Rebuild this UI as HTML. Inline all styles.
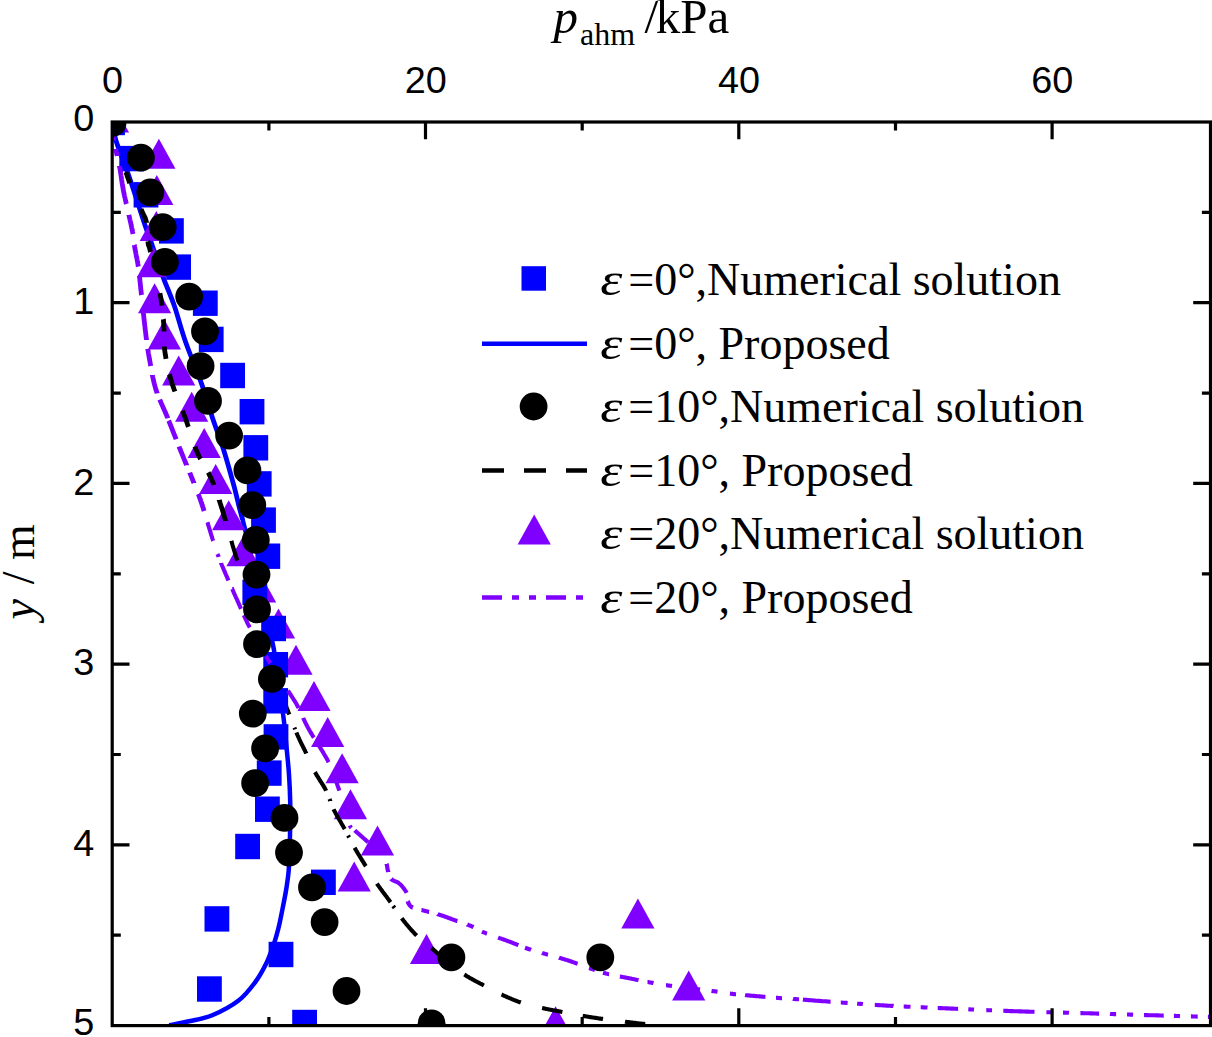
<!DOCTYPE html>
<html><head><meta charset="utf-8"><title>p_ahm chart</title>
<style>
html,body{margin:0;padding:0;background:#fff;}
body{width:1212px;height:1037px;overflow:hidden;position:relative;}
svg{position:absolute;left:0;top:0;display:block;}
.tk{font-family:"Liberation Sans",Arial,sans-serif;font-size:37.8px;fill:#000;}
.sf{font-family:"Liberation Serif","Times New Roman",serif;font-size:46px;fill:#000;}
.it{font-style:italic;}
</style></head><body>
<svg width="1212" height="1037" viewBox="0 0 1212 1037">
<rect width="1212" height="1037" fill="#fff"/>
<defs><clipPath id="cp"><rect x="112.2" y="122.0" width="1101.3" height="903.6"/></clipPath></defs>

<g clip-path="url(#cp)">
<clipPath id="ct"><rect x="0" y="0" width="1212" height="520"/></clipPath><clipPath id="cb"><rect x="0" y="520" width="1212" height="517"/></clipPath>
<path d="M112.5 122.0C113.0 125.0 113.0 130.7 115.7 139.7C118.4 148.7 124.1 162.0 128.9 176.0C133.7 190.0 140.6 212.1 144.6 223.9C148.6 235.7 149.7 238.1 152.8 247.0C155.9 255.9 159.6 267.5 163.2 277.3C166.8 287.1 170.6 295.1 174.3 305.8C178.0 316.5 180.9 328.7 185.5 341.7C190.1 354.7 197.1 371.1 201.6 383.9C206.1 396.7 209.0 407.4 212.7 418.5C216.4 429.6 220.4 439.6 223.9 450.7C227.4 461.8 231.1 475.5 233.8 485.4C236.5 495.3 238.2 503.3 240.0 510.2C241.8 517.1 242.5 518.7 244.5 527.0C246.5 535.3 249.4 548.7 252.0 560.0C254.6 571.3 257.3 584.2 260.0 595.0C262.7 605.8 265.7 616.2 268.0 625.0C270.3 633.8 271.8 638.0 273.6 648.0C275.4 658.0 277.3 673.0 279.0 685.0C280.7 697.0 282.6 709.6 283.8 720.0C285.1 730.4 285.6 738.2 286.5 747.3C287.4 756.4 288.4 765.5 289.0 774.6C289.6 783.7 290.0 791.7 290.2 801.8C290.4 811.9 290.2 824.3 290.0 835.0C289.8 845.7 289.4 858.7 289.0 866.2C288.6 873.7 288.2 875.5 287.6 880.0C287.0 884.5 286.4 888.6 285.6 893.0C284.8 897.4 284.0 901.4 283.0 906.4C282.0 911.4 280.7 918.2 279.6 923.2C278.5 928.2 277.3 932.6 276.3 936.1C275.3 939.6 275.4 939.6 273.8 944.0C272.2 948.4 269.8 956.1 266.7 962.5C263.6 968.9 259.8 976.0 255.1 982.3C250.4 988.6 245.8 995.0 238.6 1000.5C231.4 1006.0 220.4 1011.8 212.2 1015.3C203.9 1018.8 196.2 1019.6 189.1 1021.3C181.9 1022.9 172.6 1024.5 169.3 1025.2" fill="none" stroke="#0000ff" stroke-width="4.8" stroke-linejoin="round" clip-path="url(#ct)"/>
<path d="M112.5 122.0C113.0 125.0 113.0 130.7 115.7 139.7C118.4 148.7 124.1 162.0 128.9 176.0C133.7 190.0 140.6 212.1 144.6 223.9C148.6 235.7 149.7 238.1 152.8 247.0C155.9 255.9 159.6 267.5 163.2 277.3C166.8 287.1 170.6 295.1 174.3 305.8C178.0 316.5 180.9 328.7 185.5 341.7C190.1 354.7 197.1 371.1 201.6 383.9C206.1 396.7 209.0 407.4 212.7 418.5C216.4 429.6 220.4 439.6 223.9 450.7C227.4 461.8 231.1 475.5 233.8 485.4C236.5 495.3 238.2 503.3 240.0 510.2C241.8 517.1 242.5 518.7 244.5 527.0C246.5 535.3 249.4 548.7 252.0 560.0C254.6 571.3 257.3 584.2 260.0 595.0C262.7 605.8 265.7 616.2 268.0 625.0C270.3 633.8 271.8 638.0 273.6 648.0C275.4 658.0 277.3 673.0 279.0 685.0C280.7 697.0 282.6 709.6 283.8 720.0C285.1 730.4 285.6 738.2 286.5 747.3C287.4 756.4 288.4 765.5 289.0 774.6C289.6 783.7 290.0 791.7 290.2 801.8C290.4 811.9 290.2 824.3 290.0 835.0C289.8 845.7 289.4 858.7 289.0 866.2C288.6 873.7 288.2 875.5 287.6 880.0C287.0 884.5 286.4 888.6 285.6 893.0C284.8 897.4 284.0 901.4 283.0 906.4C282.0 911.4 280.7 918.2 279.6 923.2C278.5 928.2 277.3 932.6 276.3 936.1C275.3 939.6 275.4 939.6 273.8 944.0C272.2 948.4 269.8 956.1 266.7 962.5C263.6 968.9 259.8 976.0 255.1 982.3C250.4 988.6 245.8 995.0 238.6 1000.5C231.4 1006.0 220.4 1011.8 212.2 1015.3C203.9 1018.8 196.2 1019.6 189.1 1021.3C181.9 1022.9 172.6 1024.5 169.3 1025.2" fill="none" stroke="#0000ff" stroke-width="4.5" stroke-linejoin="round" clip-path="url(#cb)"/>
<g fill="#7f00ff"><polygon points="112.5,102.6 95.9,132.6 129.1,132.6"/><polygon points="158.9,138.7 142.3,168.7 175.5,168.7"/><polygon points="156.8,174.9 140.2,204.9 173.4,204.9"/><polygon points="156.3,211.0 139.7,241.0 172.9,241.0"/><polygon points="153.5,247.2 136.9,277.2 170.1,277.2"/><polygon points="154.6,283.3 138.0,313.3 171.2,313.3"/><polygon points="164.4,319.5 147.8,349.5 181.0,349.5"/><polygon points="178.7,355.6 162.1,385.6 195.3,385.6"/><polygon points="191.7,391.8 175.1,421.8 208.3,421.8"/><polygon points="204.2,427.9 187.6,457.9 220.8,457.9"/><polygon points="215.7,464.0 199.1,494.0 232.3,494.0"/><polygon points="228.7,500.2 212.1,530.2 245.3,530.2"/><polygon points="243.0,536.3 226.4,566.3 259.6,566.3"/><polygon points="259.6,572.5 243.0,602.5 276.2,602.5"/><polygon points="278.5,608.6 261.9,638.6 295.1,638.6"/><polygon points="296.0,644.8 279.4,674.8 312.6,674.8"/><polygon points="314.0,680.9 297.4,710.9 330.6,710.9"/><polygon points="327.7,717.0 311.1,747.0 344.3,747.0"/><polygon points="342.1,753.2 325.5,783.2 358.7,783.2"/><polygon points="350.5,789.3 333.9,819.3 367.1,819.3"/><polygon points="377.5,825.5 360.9,855.5 394.1,855.5"/><polygon points="354.2,861.6 337.6,891.6 370.8,891.6"/><polygon points="637.9,898.5 621.3,928.5 654.5,928.5"/><polygon points="426.5,933.9 409.9,963.9 443.1,963.9"/><polygon points="688.7,970.6 672.1,1000.6 705.3,1000.6"/><polygon points="555.6,1006.2 539.0,1036.2 572.2,1036.2"/></g>
<path d="M125.9 172.0L126.1 172.5L126.5 173.7L126.8 174.9L127.2 176.0L127.6 177.1L127.9 178.1L128.3 179.2L128.7 180.2L129.0 181.3L129.4 182.3L129.7 183.1M141.0 209.1L141.2 209.6L141.5 210.1L141.7 210.6L141.9 211.1L142.1 211.6L142.3 212.0L142.5 212.4L142.7 212.9L142.9 213.2L143.1 213.6L143.2 214.0L143.4 214.3L143.5 214.6L143.7 214.9L143.8 215.2L144.0 215.5L144.1 215.8L144.3 216.1L144.4 216.3L144.5 216.6L144.6 216.8L144.8 217.1L144.9 217.4L145.0 217.6L145.1 217.9L145.2 218.1L145.3 218.4L145.4 218.6L145.5 218.9L145.6 219.2L145.7 219.4L145.8 219.7L145.9 220.0L146.0 220.3L146.1 220.7L146.1 221.0L146.2 221.3L146.3 221.7L146.4 222.1L146.5 222.5L146.5 222.7M147.9 241.5L148.0 241.6L148.0 242.0L148.0 242.4L148.1 242.7L148.1 243.0L148.2 243.2L148.2 243.5L148.2 243.7L148.3 243.9L148.3 244.0L148.3 244.2L148.4 244.3L148.4 244.5L148.4 244.6L148.5 244.7L148.5 244.8L148.5 244.9L148.6 245.0L148.6 245.1L148.6 245.2L148.7 245.3L148.7 245.4L148.7 245.5L148.8 245.6L148.8 245.8L148.9 245.9L149.0 246.1L149.0 246.3L149.1 246.5L149.2 246.7L149.2 247.0L149.3 247.2L149.4 247.6L149.5 247.9L149.6 248.3L149.7 248.7L149.8 249.1L149.9 249.6L150.1 250.1L150.2 250.7L150.3 251.3L150.5 252.0L150.5 252.0M159.9 293.2L160.1 294.2L160.3 295.2L160.5 296.2L160.7 297.2L160.9 298.1L161.0 299.0L161.2 299.9L161.3 300.8L161.4 301.7L161.6 302.5L161.7 303.4L161.8 304.2L161.9 305.0L162.0 305.6M163.3 319.2L163.4 319.5L163.4 320.2L163.5 320.9L163.5 321.5L163.6 322.2L163.6 322.9L163.7 323.5L163.7 324.2L163.7 324.9L163.8 325.5L163.8 326.2L163.9 326.9L163.9 327.6L164.0 328.2L164.0 328.9L164.1 329.6L164.1 330.2L164.1 330.8L164.1 331.5L164.1 331.6M164.4 346.4L164.4 346.4L164.4 347.1L164.5 347.7L164.5 348.3L164.6 349.0L164.6 349.7L164.7 350.3L164.8 351.0L164.9 351.7L165.0 352.4L165.1 353.1L165.2 353.8L165.3 354.5L165.4 355.2L165.6 356.0L165.7 356.7L165.8 357.4L165.9 358.1L166.0 358.8M169.4 374.2L169.5 374.4L169.7 375.2L169.9 376.0L170.1 376.8L170.3 377.6L170.6 378.5L170.8 379.3L171.0 380.1L171.3 380.9L171.5 381.8L171.8 382.6L172.1 383.4L172.3 384.3L172.6 385.1L172.9 386.0L173.2 386.9L173.5 387.7L173.8 388.6L174.1 389.5L174.5 390.4L174.8 391.3L174.9 391.6M182.5 410.7L182.8 411.4L183.1 412.3L183.5 413.2L183.8 414.1L184.2 415.0L184.5 415.9L184.9 416.8L185.2 417.6L185.5 418.5L185.8 419.4L186.1 420.2L186.4 421.1L186.7 422.0L187.0 422.8L187.3 423.7L187.6 424.6L187.9 425.5L188.2 426.3L188.4 426.8M195.0 446.6L195.2 447.3L195.5 448.1L195.8 448.9L196.1 449.7L196.5 450.5L196.8 451.2L197.1 452.0L197.4 452.8L197.8 453.5L198.1 454.2L198.4 455.0L198.8 455.7L199.1 456.4L199.5 457.1L199.9 457.8L200.2 458.5L200.5 459.0M208.2 472.6L208.5 473.1L208.9 473.8L209.2 474.5L209.5 475.1L209.9 475.8L210.2 476.5L210.6 477.1L210.9 477.8L211.2 478.5L211.5 479.2L211.8 479.9L212.1 480.6L212.4 481.2L212.7 481.9L213.0 482.6L213.2 483.2L213.5 483.9L213.8 484.6L213.9 485.0M219.2 499.9L219.2 500.1L219.5 500.9L219.7 501.6L220.0 502.4L220.2 503.2L220.5 504.1L220.8 504.9L221.0 505.7L221.3 506.6L221.6 507.5L221.9 508.4L222.2 509.3L222.5 510.3L222.8 511.3L223.1 512.2L223.4 513.3L223.7 514.3L224.0 515.3L224.3 516.4L224.6 517.5L224.9 518.5L225.3 519.6L225.6 520.8L225.6 521.0" fill="none" stroke="#000" stroke-width="4.8"/>
<path d="M231.3 540.8L231.4 541.3L231.8 542.4L232.1 543.5L232.4 544.6L232.7 545.6L233.0 546.7L233.3 547.7L233.6 548.7L233.9 549.7L234.2 550.7L234.5 551.7L234.8 552.6L235.1 553.6L235.4 554.5L235.6 555.4L235.9 556.3L236.2 557.2L236.5 558.1L236.7 559.0L237.0 559.9L237.2 560.6M281.6 694.0L281.6 694.0L282.0 695.0L282.4 696.0L282.7 697.0L283.1 697.9L283.4 698.9L283.8 699.9L284.2 700.9L284.6 701.9L284.9 702.9L285.3 703.9L285.7 704.9L286.1 705.9L286.4 707.0L286.8 708.0L287.2 709.0L287.6 710.0L287.9 711.0L288.3 712.0L288.7 713.0L289.1 714.0L289.3 714.5M294.4 727.6L294.5 727.8L294.8 728.6L295.1 729.4M296.4 732.5L296.4 732.5L296.7 733.2L297.0 733.9L297.3 734.6L297.6 735.3L297.9 735.9L298.1 736.6L298.4 737.2L298.7 737.8L299.0 738.4L299.2 739.0L299.5 739.5L299.7 740.1L300.0 740.6L300.2 741.2L300.5 741.7L300.7 742.2L301.0 742.7L301.2 743.2L301.5 743.7L301.7 744.2L301.9 744.7L302.2 745.1L302.4 745.6L302.6 746.1L302.9 746.5L303.1 747.0L303.3 747.4L303.6 747.9L303.8 748.4L304.0 748.8L304.2 749.3L304.5 749.7L304.7 750.2L304.9 750.6L305.2 751.1L305.4 751.6L305.6 752.0L305.8 752.5L306.1 753.0L306.3 753.5L306.3 753.5M315.0 772.1L315.0 772.1L315.3 772.6L315.5 773.0L315.8 773.5L316.0 774.0L316.3 774.4L316.6 774.9L316.8 775.4L317.1 775.8L317.4 776.3L317.7 776.8L318.0 777.2L318.3 777.7L318.6 778.1L318.9 778.6L319.1 779.1L319.4 779.5L319.7 780.0L320.0 780.5L320.3 780.9L320.6 781.4L320.9 781.9L321.2 782.3L321.5 782.8L321.8 783.3L322.1 783.7L322.4 784.2L322.7 784.7L323.0 785.1L323.2 785.6L323.5 786.1L323.8 786.5L324.1 787.0L324.3 787.4L324.6 787.9L324.9 788.4L325.1 788.8L325.4 789.3L325.6 789.8L325.9 790.2L326.1 790.7L326.1 790.7M329.5 799.0L329.5 799.0L329.7 799.5L329.9 799.9L330.0 800.4L330.2 800.8L330.2 801.0M333.6 809.3L333.6 809.3L333.8 809.8L334.1 810.3L334.3 810.7L334.6 811.2L334.8 811.7L335.1 812.2L335.3 812.7L335.6 813.2L335.9 813.7L336.2 814.2L336.4 814.7L336.7 815.2L337.0 815.7L337.3 816.2L337.6 816.7L337.8 817.2L338.1 817.7L338.4 818.2L338.7 818.7L339.0 819.2L339.3 819.7L339.6 820.2L339.9 820.7L340.2 821.2L340.5 821.7L340.8 822.2L341.1 822.7L341.3 823.2L341.6 823.7L341.9 824.2L342.2 824.7L342.5 825.2L342.8 825.7L343.1 826.2L343.3 826.7L343.6 827.2L343.9 827.7L344.2 828.1L344.4 828.6L344.7 829.1L344.7 829.1M348.1 835.5L348.2 835.7L348.4 836.2L348.7 836.6L348.9 837.1L349.1 837.5M354.6 847.7L354.6 847.7L354.9 848.2L355.1 848.6L355.4 849.1L355.7 849.6L355.9 850.0L356.2 850.5L356.5 851.0L356.8 851.4L357.0 851.9L357.3 852.4L357.6 852.8L357.9 853.3L358.1 853.8L358.4 854.2L358.7 854.7L359.0 855.2L359.3 855.6L359.6 856.1L359.8 856.6L360.1 857.0L360.4 857.5L360.7 858.0L361.0 858.4L361.3 858.9L361.6 859.3L361.8 859.8L362.1 860.3L362.4 860.7L362.7 861.2L363.0 861.7L363.3 862.1L363.5 862.6L363.8 863.0L364.1 863.5L364.4 863.9L364.7 864.4L365.0 864.8L365.2 865.3L365.5 865.8L365.8 866.2L365.8 866.2M376.9 883.6L376.9 883.6L377.2 884.1L377.5 884.5L377.8 885.0L378.2 885.4L378.5 885.9L378.8 886.3L379.2 886.8L379.5 887.3L379.8 887.8L380.2 888.2L380.5 888.7L380.9 889.2L381.2 889.6L381.6 890.1L381.9 890.6L382.3 891.1L382.6 891.6L383.0 892.0L383.3 892.5L383.7 893.0L384.0 893.5L384.4 893.9L384.8 894.4L385.1 894.9L385.5 895.4L385.8 895.8L386.2 896.3L386.5 896.8L386.9 897.2L387.2 897.7L387.6 898.2L387.9 898.6L388.2 899.1L388.6 899.5L388.9 900.0L389.2 900.4L389.6 900.9L389.9 901.3L390.2 901.8L390.5 902.2L390.5 902.2M393.1 906.0L393.4 906.4L393.7 906.8L393.9 907.2L394.2 907.6L394.5 908.0L394.5 908.0M401.7 918.3L401.7 918.3L402.0 918.7L402.4 919.1L402.7 919.6L403.0 920.0L403.4 920.4L403.7 920.9L404.1 921.3L404.4 921.8L404.8 922.2L405.2 922.7L405.5 923.1L405.9 923.6L406.3 924.0L406.6 924.5L407.0 924.9L407.4 925.4L407.8 925.8L408.2 926.3L408.5 926.7L408.9 927.2L409.3 927.6L409.7 928.1L410.1 928.5L410.5 929.0L410.9 929.4L411.2 929.9L411.6 930.3L412.0 930.7L412.4 931.2L412.8 931.6L413.2 932.0L413.6 932.4L414.0 932.8L414.3 933.3L414.7 933.7L415.1 934.1L415.5 934.5L415.9 934.8L416.2 935.2L416.6 935.6L416.6 935.6M431.4 948.0L431.4 948.0L431.8 948.3L432.2 948.7L432.6 949.0L433.0 949.3L433.4 949.7L433.8 950.0L434.2 950.4L434.6 950.7L435.0 951.1L435.4 951.4L435.8 951.8L436.3 952.1L436.7 952.5L437.1 952.8L437.5 953.2L437.9 953.6L438.3 953.9L438.8 954.3L439.2 954.6L439.6 955.0L440.0 955.4L440.5 955.7L440.9 956.1L441.3 956.4L441.7 956.8L442.1 957.1L442.6 957.5L443.0 957.9L443.0 957.9M464.3 974.5L464.3 974.5L464.8 974.8L465.2 975.1L465.7 975.4L466.1 975.7L466.6 976.0L467.1 976.3L467.6 976.5L468.0 976.8L468.5 977.1L469.0 977.4L469.5 977.7L470.0 978.0L470.5 978.3L471.0 978.5L471.5 978.8L472.0 979.1L472.5 979.4L473.0 979.7L473.5 979.9L474.0 980.2L474.5 980.5L475.0 980.8L475.5 981.0L476.0 981.3L476.6 981.6L477.1 981.9L477.6 982.1L478.1 982.4L478.6 982.7L479.1 982.9L479.6 983.2L480.1 983.5L480.5 983.7L481.0 984.0L481.5 984.2L482.0 984.5L482.5 984.7L483.0 985.0L483.4 985.2L483.9 985.5L483.9 985.5M501.5 994.5L501.5 994.5L502.0 994.7L502.4 994.9L502.9 995.1L503.4 995.4L503.8 995.6L504.3 995.8L504.8 996.0L505.2 996.2L505.7 996.4L506.2 996.6L506.6 996.8L507.1 997.1L507.6 997.3L508.0 997.5L508.5 997.7L509.0 997.9L509.5 998.1L510.0 998.3L510.4 998.5L510.9 998.7L511.4 998.9L511.9 999.1L512.4 999.3L512.9 999.5L513.3 999.7L513.8 999.9L514.3 1000.1L514.8 1000.3L515.3 1000.5L515.8 1000.7L516.3 1000.9L516.8 1001.1L517.3 1001.3L517.8 1001.4L518.3 1001.6L518.8 1001.8L519.3 1002.0L519.8 1002.2L520.3 1002.3L520.8 1002.5L520.8 1002.5M542.1 1008.0L542.1 1008.0L542.6 1008.1L543.1 1008.2L543.7 1008.3L544.2 1008.5L544.7 1008.6L545.2 1008.7L545.7 1008.8L546.2 1008.9L546.7 1009.0L547.2 1009.1L547.8 1009.2L548.3 1009.3L548.8 1009.4L549.3 1009.5L549.8 1009.6L550.3 1009.7L550.8 1009.8L551.3 1009.9L551.8 1010.0L552.3 1010.1L552.8 1010.2L553.3 1010.3L553.8 1010.4L554.3 1010.5L554.8 1010.6L555.3 1010.7L555.8 1010.8L556.3 1010.9L556.8 1011.0L557.3 1011.0L557.9 1011.1L558.4 1011.2L558.9 1011.3L559.4 1011.4L559.9 1011.5L560.4 1011.6L560.9 1011.7L561.4 1011.8L561.9 1011.9L562.4 1012.0L562.4 1012.0M582.7 1015.8L582.7 1015.8L583.2 1015.9L583.7 1016.0L584.2 1016.1L584.7 1016.1L585.2 1016.2L585.7 1016.3L586.2 1016.4L586.7 1016.5L587.2 1016.6L587.7 1016.7L588.2 1016.7L588.7 1016.8L589.2 1016.9L589.7 1017.0L590.2 1017.1L590.7 1017.1L591.2 1017.2L591.7 1017.3L592.2 1017.4L592.7 1017.5L593.2 1017.5L593.7 1017.6L594.3 1017.7L594.8 1017.8L595.3 1017.9L595.8 1017.9L596.3 1018.0L596.8 1018.1L597.3 1018.2L597.8 1018.2L598.3 1018.3L598.8 1018.4L599.3 1018.5L599.9 1018.6L600.4 1018.6L600.9 1018.7L601.4 1018.8L601.9 1018.9L602.5 1018.9L603.0 1019.0L603.0 1019.0M625.0 1021.7L625.0 1021.7L625.5 1021.8L626.1 1021.8L626.6 1021.9L627.1 1022.0L627.7 1022.0L628.2 1022.1L628.7 1022.1L629.3 1022.2L629.8 1022.3L630.3 1022.3L630.9 1022.4L631.4 1022.5L631.9 1022.5L632.5 1022.6L633.0 1022.7L633.5 1022.7L634.0 1022.8L634.6 1022.9L635.1 1022.9L635.6 1023.0L636.1 1023.0L636.6 1023.1L637.2 1023.2L637.7 1023.2L638.2 1023.3L638.7 1023.3L639.2 1023.4L639.7 1023.5L640.2 1023.5L640.7 1023.6L641.1 1023.6L641.6 1023.7L642.1 1023.7L642.6 1023.8L643.0 1023.8L643.5 1023.9L644.0 1023.9L644.4 1024.0L644.9 1024.1L645.3 1024.1L645.3 1024.1" fill="none" stroke="#000" stroke-width="4.1"/>
<g fill="#0000ff"><rect x="100.1" y="109.8" width="24.8" height="25.4"/><rect x="119.3" y="145.9" width="24.8" height="25.4"/><rect x="133.6" y="182.1" width="24.8" height="25.4"/><rect x="159.0" y="218.2" width="24.8" height="25.4"/><rect x="166.2" y="254.4" width="24.8" height="25.4"/><rect x="192.9" y="290.5" width="24.8" height="25.4"/><rect x="198.8" y="326.7" width="24.8" height="25.4"/><rect x="220.2" y="362.8" width="24.8" height="25.4"/><rect x="239.6" y="399.0" width="24.8" height="25.4"/><rect x="243.4" y="435.1" width="24.8" height="25.4"/><rect x="246.8" y="471.2" width="24.8" height="25.4"/><rect x="251.1" y="507.4" width="24.8" height="25.4"/><rect x="255.4" y="543.5" width="24.8" height="25.4"/><rect x="242.4" y="579.7" width="24.8" height="25.4"/><rect x="261.2" y="615.8" width="24.8" height="25.4"/><rect x="263.3" y="652.0" width="24.8" height="25.4"/><rect x="263.3" y="688.1" width="24.8" height="25.4"/><rect x="263.6" y="724.2" width="24.8" height="25.4"/><rect x="256.8" y="760.4" width="24.8" height="25.4"/><rect x="255.0" y="796.5" width="24.8" height="25.4"/><rect x="235.2" y="833.8" width="24.8" height="25.4"/><rect x="311.0" y="869.6" width="24.8" height="25.4"/><rect x="204.5" y="906.2" width="24.8" height="25.4"/><rect x="268.6" y="941.8" width="24.8" height="25.4"/><rect x="197.0" y="976.3" width="24.8" height="25.4"/><rect x="292.2" y="1009.8" width="24.8" height="25.4"/></g>
<path d="M113.0 136.0L113.0 136.4L113.1 136.8L113.1 137.2L113.2 137.6L113.2 138.0L113.3 138.4L113.3 138.8L113.4 139.2L113.4 139.5L113.5 139.9L113.6 140.3L113.6 140.4M115.6 149.0L115.6 149.2L115.7 149.6L115.8 149.9L115.9 150.3L116.0 150.7L116.1 151.0L116.2 151.4L116.2 151.8L116.3 152.2L116.4 152.5L116.5 152.9L116.6 153.3L116.7 153.6L116.7 154.0L116.8 154.4L116.9 154.7L117.0 155.1L117.1 155.4L117.2 155.8L117.2 156.0M119.5 166.0L119.5 166.0L119.5 166.4L119.6 166.9L119.7 167.3L119.8 167.8L119.9 168.3L120.0 168.7L120.1 169.2L120.1 169.7L120.2 170.2L120.3 170.7L120.4 171.2L120.5 171.7L120.5 172.3L120.6 172.8L120.7 173.3L120.8 173.9L120.9 174.4L120.9 175.0L121.0 175.5L121.1 176.1L121.2 176.6L121.3 177.2L121.3 177.8L121.4 178.3L121.5 178.9L121.6 179.5L121.7 180.1L121.8 180.6L121.8 181.2L121.9 181.8L122.0 182.4L122.1 183.0L122.2 183.6L122.3 184.2L122.4 184.7L122.5 185.3L122.6 185.9L122.7 186.5L122.8 187.1L122.9 187.7L123.0 188.3L123.1 188.8L123.2 189.4L123.3 190.0L123.4 190.6L123.5 191.2L123.6 191.8L123.8 192.3L123.9 192.9L124.0 193.5L124.1 194.1L124.3 194.7L124.4 195.4L124.5 196.0L124.7 196.6L124.8 197.2L125.0 197.8L125.1 198.4L125.2 199.0L125.4 199.7L125.5 200.3L125.7 200.9L125.8 201.5L125.9 202.1L126.1 202.8L126.2 203.4L126.4 204.0L126.4 204.0M128.9 215.0L128.9 215.1L129.1 215.6L129.2 216.2L129.3 216.7L129.4 217.3L129.6 217.8L129.7 218.4L129.8 218.9L129.9 219.5L130.0 220.0L130.2 220.5L130.3 221.1L130.4 221.6L130.5 222.1L130.6 222.7L130.8 223.2L130.9 223.7L131.0 224.2L131.1 224.8L131.2 225.3L131.3 225.8L131.4 226.3L131.5 226.8L131.6 227.3L131.7 227.8L131.8 228.2L132.0 228.7L132.1 229.2L132.1 229.7L132.2 230.1L132.3 230.6L132.4 231.0L132.5 231.5L132.6 231.9L132.7 232.3L132.8 232.8L132.8 233.2L132.9 233.6L133.0 234.0L133.0 234.0M134.3 245.0L134.4 245.2L134.4 245.6L134.5 246.0L134.6 246.4L134.6 246.8L134.7 247.3L134.8 247.7L134.9 248.2L135.0 248.6L135.0 249.1L135.1 249.5L135.2 250.0L135.3 250.5L135.4 251.0L135.5 251.5L135.6 252.0L135.7 252.5L135.8 253.0L135.9 253.5L136.0 254.1L136.1 254.6L136.2 255.1L136.3 255.7L136.4 256.2L136.5 256.7L136.6 257.3L136.8 257.8L136.9 258.4L137.0 258.9L137.1 259.5L137.2 260.0L137.3 260.6L137.4 261.2L137.5 261.7L137.6 262.3L137.7 262.8L137.8 263.4L137.9 263.9L138.0 264.5L138.0 265.1L138.1 265.6L138.2 266.2L138.3 266.6M139.5 276.0L139.5 276.2L139.5 276.7L139.6 277.2L139.6 277.8L139.7 278.3L139.8 278.8L139.8 279.4L139.9 280.0L139.9 280.5L140.0 281.1L140.1 281.8L140.1 282.4L140.2 283.0L140.3 283.7L140.3 284.4L140.4 285.1L140.5 285.8L140.6 286.5L140.6 287.3L140.7 288.1L140.8 288.9L140.9 289.7L141.0 290.6L141.1 291.5L141.2 292.4L141.3 293.4L141.4 294.4L141.5 295.0M143.4 313.0L143.4 313.1L143.5 314.4L143.7 315.6L143.8 316.8L143.9 318.1L144.1 319.3L144.2 320.5L144.3 321.7L144.5 322.9L144.6 324.0L144.7 325.2L144.9 326.3L145.0 327.4L145.1 328.5L145.2 329.5L145.3 330.5L145.5 331.5L145.6 332.5L145.7 333.4L145.8 334.3L145.9 335.2L146.0 336.0L146.1 336.8L146.2 337.6L146.3 338.3L146.4 339.0L146.5 339.8L146.5 340.0M147.8 349.0L147.8 349.2L147.9 349.8L148.0 350.3L148.1 350.8L148.2 351.4L148.2 351.9L148.3 352.5L148.4 353.0L148.5 353.6L148.6 354.1L148.7 354.7L148.8 355.3L148.9 355.9L149.0 356.5L149.1 357.1L149.3 357.8L149.4 358.4L149.5 359.1L149.6 359.8L149.7 360.5L149.9 361.2L150.0 361.9L150.1 362.6L150.2 363.3L150.4 364.0L150.5 364.8L150.6 365.5L150.7 366.0M152.4 375.0L152.4 375.3L152.6 376.1L152.7 376.9L152.9 377.6L153.1 378.4L153.2 379.2L153.4 379.9L153.6 380.7L153.7 381.4L153.9 382.2L154.1 382.9L154.3 383.7L154.5 384.4L154.7 385.2L154.9 385.9L155.1 386.6L155.3 387.4L155.5 388.1L155.7 388.8L155.9 389.5L156.1 390.2L156.4 390.9L156.6 391.6L156.8 392.3L157.1 392.9L157.2 393.4M159.7 399.6L159.9 400.1L160.2 400.7L160.5 401.3L160.8 402.0L161.0 402.6L161.3 403.3L161.6 403.9L161.9 404.6L162.2 405.3L162.5 405.9L162.8 406.6L163.1 407.3L163.4 408.0L163.7 408.6L164.0 409.3L164.3 410.1L164.7 410.8L165.0 411.5L165.3 412.2L165.6 413.0L165.9 413.7L166.3 414.5L166.6 415.3L166.9 416.1L167.2 416.9L167.6 417.7L167.7 418.2M168.7 420.6L169.0 421.2L169.3 422.1L169.7 423.0L170.1 424.0L170.4 424.9L170.8 425.9L171.2 426.8L171.6 427.8L172.0 428.8L172.3 429.7L172.7 430.7L173.1 431.7L173.5 432.7L173.9 433.7L174.3 434.6L174.7 435.6L175.1 436.6L175.5 437.6L175.9 438.6L176.1 439.2M179.1 446.6L179.3 447.2L179.6 448.1L180.0 449.0L180.3 449.8L180.7 450.7L181.0 451.6L181.4 452.4L181.7 453.2L182.0 454.0L182.3 454.8L182.7 455.6L183.0 456.3L183.3 457.1L183.6 457.9L183.9 458.6L184.2 459.4L184.5 460.1L184.8 460.8L185.1 461.5L185.4 462.3L185.7 463.0L186.0 463.7L186.3 464.4L186.6 465.1L186.6 465.2M189.7 472.6L189.8 473.0L190.1 473.6L190.4 474.2L190.6 474.9L190.9 475.5L191.1 476.1L191.4 476.8L191.6 477.4L191.9 478.0L192.2 478.6L192.4 479.3L192.7 479.9L192.9 480.5L193.1 481.1L193.4 481.7L193.6 482.3L193.9 482.9L193.9 483.0M198.3 494.0L198.5 494.5L198.7 495.0L198.9 495.6L199.1 496.1L199.3 496.7L199.5 497.3L199.7 497.8L199.9 498.4L200.1 499.0L200.4 499.7L200.6 500.3L200.8 501.0L201.0 501.6L201.3 502.3L201.5 503.0L201.7 503.7L202.0 504.5L202.2 505.2L202.5 506.0L202.7 506.8L203.0 507.6L203.3 508.5L203.5 509.3L203.8 510.2L204.1 511.0" fill="none" stroke="#7f00ff" stroke-width="4.8"/>
<path d="M207.4 522.2L207.7 523.0L208.0 524.0L208.2 524.9L208.5 525.8L208.8 526.7L209.0 527.6L209.3 528.4L209.6 529.3L209.8 530.2L210.1 531.0L210.3 531.8L210.6 532.6L210.8 533.4L211.0 534.2L211.3 534.9L211.5 535.6L211.7 536.3L211.9 537.0L212.1 537.6L212.3 538.3L212.5 538.9L212.7 539.5L212.9 540.0L213.0 540.6L213.1 540.8M217.5 554.0L217.6 554.2L217.7 554.6L217.9 555.1L218.1 555.6L218.3 556.1L218.5 556.6L218.6 557.0M221.1 563.1L221.1 563.3L221.3 563.8L221.6 564.3L221.8 564.9L222.0 565.4L222.2 565.9L222.4 566.5L222.7 567.0L222.9 567.5L223.1 568.1L223.3 568.6L223.6 569.1L223.8 569.7L224.0 570.2L224.3 570.7L224.5 571.3L224.7 571.8L224.9 572.4L225.2 572.9L225.4 573.4L225.6 574.0L225.9 574.5L226.1 575.1L226.3 575.6L226.6 576.2L226.8 576.7L227.0 577.2L227.3 577.8L227.5 578.3L227.7 578.9L228.0 579.4L228.2 579.9L228.4 580.4M232.2 589.1L232.3 589.1L232.5 589.7L232.8 590.2L233.0 590.8L233.3 591.3L233.5 591.9L233.8 592.5L234.0 593.1L234.3 593.6L234.5 594.2L234.8 594.8L235.1 595.4L235.3 596.0L235.6 596.6L235.9 597.2L236.1 597.8L236.4 598.4L236.7 599.0L237.0 599.6L237.3 600.2L237.5 600.9L237.8 601.5L238.1 602.1L238.4 602.7L238.6 603.4L238.9 604.0L239.2 604.6L239.5 605.3L239.7 605.9L240.0 606.6L240.3 607.2L240.6 607.9L240.8 608.5L241.0 608.9M243.7 615.1L243.8 615.2L244.1 615.9L244.4 616.6L244.8 617.3L245.1 618.0L245.4 618.8L245.8 619.5L246.1 620.2L246.5 620.9L246.8 621.7L247.2 622.4L247.5 623.2L247.9 623.9L248.3 624.7L248.7 625.4L249.1 626.2L249.5 627.0L249.8 627.5M265.9 656.0L266.3 656.6L266.8 657.5L267.3 658.4L267.8 659.3L268.4 660.1L268.9 661.0L269.4 661.9L270.0 662.8L270.4 663.4M288.0 690.6L288.2 690.9L288.6 691.6L289.1 692.3L289.6 693.0L290.0 693.7L290.4 694.4L290.8 695.0L291.2 695.6L291.6 696.2L291.9 696.7L292.2 697.2L292.5 697.7L292.8 698.2L293.1 698.6L293.3 699.0L293.6 699.4L293.8 699.7L294.0 700.1L294.2 700.4L294.4 700.7L294.6 701.0L294.8 701.2L294.9 701.5L295.1 701.7L295.3 702.0L295.4 702.2L295.5 702.4L295.7 702.7L295.8 702.9L295.9 703.1L296.0 703.3L296.2 703.5L296.3 703.7L296.4 703.9L296.5 704.1L296.7 704.3L296.8 704.6L296.9 704.8L297.0 705.1L297.2 705.3L297.3 705.6L297.5 705.9L297.6 706.2L297.8 706.5L298.0 706.9L298.2 707.2L298.4 707.6L298.6 708.0L298.6 708.0M303.2 717.9L303.3 718.2L303.6 718.8L303.8 719.3L304.1 719.9L304.3 720.4L304.6 721.0L304.9 721.5L305.1 722.1L305.4 722.7L305.7 723.3L306.0 723.9L306.3 724.5L306.6 725.1L307.0 725.7L307.3 726.4L307.6 727.0L308.0 727.7L308.3 728.3L308.7 729.0L309.1 729.7L309.5 730.4L309.9 731.1L310.3 731.9L310.8 732.6L311.2 733.4L311.7 734.2L312.2 735.0L312.7 735.8L313.2 736.6L313.7 737.4L313.9 737.7M317.6 743.6L318.1 744.4L318.7 745.3L319.2 746.2L319.8 747.1L320.3 748.0L320.9 748.9L321.4 749.7L322.0 750.6L322.5 751.5L323.1 752.4L323.6 753.3L324.1 754.1L324.6 755.0L325.1 755.8L325.6 756.7L326.1 757.5L326.5 758.3L327.0 759.1L327.4 759.9L327.8 760.7L328.2 761.5L328.6 762.2L328.6 762.2M336.4 782.0L336.5 782.3L336.7 782.9L336.9 783.5L337.1 784.1L337.3 784.7L337.5 785.3L337.7 785.9L337.9 786.5L338.1 787.0L338.3 787.6L338.5 788.2L338.7 788.8L338.9 789.3L339.1 789.9L339.3 790.4L339.4 790.7M354.8 830.4L355.0 830.6L355.2 830.8L355.5 831.0L355.7 831.3L356.0 831.5L356.3 831.8L356.6 832.0L356.9 832.3L357.2 832.6L357.5 832.8L357.8 833.1L358.1 833.4L358.5 833.7L358.8 834.0L359.2 834.3L359.5 834.6L359.9 834.9L360.2 835.2L360.6 835.6L360.9 835.9L361.3 836.2L361.7 836.5L362.0 836.8L362.4 837.2L362.8 837.5L363.1 837.8L363.5 838.1L363.9 838.4L364.2 838.8L364.6 839.1L365.0 839.4L365.3 839.7L365.6 840.0L366.0 840.3L366.3 840.6L366.7 840.9L367.0 841.2L367.3 841.5L367.6 841.8L367.9 842.0L368.2 842.3L368.2 842.3M386.6 863.9L386.6 863.9L386.7 864.1L386.7 864.4L386.8 864.6L386.8 864.8L386.9 865.1L386.9 865.3L387.0 865.5L387.0 865.8L387.1 866.0L387.1 866.2L387.2 866.4L387.2 866.7L387.2 866.9L387.3 867.1L387.3 867.3L387.3 867.5L387.3 867.8L387.4 868.0L387.4 868.2L387.4 868.4L387.5 868.6L387.5 868.9L387.5 869.1L387.6 869.3L387.6 869.5L387.7 869.7L387.7 869.9L387.8 870.1L387.8 870.4L387.9 870.6L387.9 870.8L388.0 871.0L388.1 871.2L388.1 871.4L388.2 871.6L388.3 871.9L388.3 872.0M421.5 910.0L421.7 910.0L422.0 910.1L422.4 910.2L422.7 910.3L423.1 910.4L423.4 910.5L423.7 910.6L424.1 910.7L424.4 910.7L424.7 910.8L425.1 910.9L425.4 911.0L425.7 911.1L426.0 911.2L426.4 911.3L426.7 911.3L427.0 911.4L427.3 911.5L427.6 911.6L428.0 911.7L428.3 911.7L428.6 911.8L428.9 911.9L429.0 911.9M437.6 914.1L437.7 914.2L438.0 914.3L438.4 914.4L438.8 914.5L439.2 914.6L439.6 914.8L440.0 914.9L440.4 915.0L440.8 915.2L441.2 915.3L441.6 915.4L442.1 915.6L442.5 915.7L442.9 915.9L443.4 916.0L443.8 916.2L444.3 916.3L444.7 916.5L445.1 916.7L445.6 916.8L446.0 917.0L446.5 917.2L447.0 917.3L447.4 917.5L447.9 917.7L448.3 917.8L448.8 918.0L449.2 918.2L449.7 918.3L450.1 918.5L450.6 918.7L451.0 918.8L451.5 919.0L451.9 919.1L452.4 919.3L452.8 919.5L453.3 919.6L453.7 919.8L454.1 919.9L454.5 920.1L455.0 920.3L455.4 920.4L455.8 920.6L456.2 920.7L456.6 920.8L457.0 921.0L457.4 921.1L457.4 921.1M467.3 924.5L467.4 924.6L467.8 924.7L468.2 924.9L468.5 925.0L468.9 925.1L469.2 925.3L469.6 925.4L469.9 925.6L470.3 925.7L470.6 925.9L471.0 926.0L471.4 926.2L471.7 926.3L472.0 926.5L472.4 926.6L472.7 926.8L473.0 926.9L473.3 927.1L473.5 927.2M482.0 931.6L482.0 931.6L482.4 931.8L482.8 932.0L483.3 932.1L483.7 932.3L484.1 932.5L484.6 932.7L485.1 932.9L485.6 933.1L486.1 933.3L486.6 933.5L487.0 933.6M498.1 937.6L498.6 937.8L499.2 938.0L499.9 938.2L500.5 938.4L501.1 938.6L501.8 938.9L502.4 939.1L503.0 939.3L503.6 939.5L504.2 939.7L504.8 939.9L505.4 940.2L506.0 940.4L506.6 940.6L507.2 940.8L507.7 941.0L508.3 941.2L508.8 941.4L509.4 941.6L509.9 941.8L510.5 942.0L511.0 942.2L511.6 942.4L512.1 942.6L512.6 942.8L513.2 943.1L513.7 943.3L514.2 943.5L514.7 943.7L515.3 943.9L515.8 944.1L516.3 944.3L516.8 944.5L517.3 944.7L517.9 944.9L518.4 945.1L518.4 945.1M525.0 947.7L525.3 947.8L525.8 948.0L526.2 948.2L526.7 948.3L527.2 948.5L527.7 948.7L528.1 948.8L528.6 949.0L529.1 949.2L529.5 949.3L530.0 949.5L530.4 949.6L530.8 949.7L531.0 949.8M542.0 953.0L542.2 953.1L542.6 953.2L543.1 953.3L543.6 953.4L544.0 953.6L544.5 953.7L545.0 953.9L545.5 954.0L546.0 954.1L546.5 954.3L547.0 954.4L547.5 954.6L548.0 954.7M559.0 957.7L559.2 957.8L559.8 958.0L560.4 958.1L561.1 958.3L561.7 958.5L562.3 958.7L563.0 958.9L563.6 959.1L564.3 959.3L564.9 959.5L565.6 959.7L566.3 959.9L567.0 960.1L567.7 960.3L568.4 960.6L569.1 960.8L569.8 961.0L570.6 961.3L571.3 961.5L572.1 961.8L572.9 962.1L573.7 962.4L574.5 962.7L575.3 963.0L576.2 963.3L577.0 963.6L577.6 963.8M589.0 968.0L589.4 968.1L590.3 968.5L591.2 968.8L592.1 969.1L593.0 969.4L593.9 969.7L594.8 970.0L595.0 970.1M603.0 972.7L603.0 972.7L603.8 972.9L604.5 973.1L605.3 973.3L606.0 973.5L606.8 973.7L607.5 973.9L608.2 974.1L608.9 974.3L609.0 974.3M619.9 976.5L620.0 976.5L620.7 976.7L621.3 976.8L622.0 976.9L622.6 977.0L623.2 977.1L623.9 977.2L624.5 977.3L625.1 977.5L625.8 977.6L626.4 977.7L627.0 977.8L627.6 977.9L628.2 978.0L628.8 978.2L629.4 978.3L630.0 978.4L630.6 978.5L631.2 978.6L631.7 978.8L632.3 978.9L632.9 979.0L633.4 979.1L634.0 979.2L634.5 979.3L635.0 979.4L635.5 979.6L636.1 979.7L636.6 979.8L637.1 979.9L637.6 980.0L638.1 980.1L638.5 980.2M647.5 982.0L647.8 982.0L648.3 982.1L648.8 982.2L649.3 982.3L649.8 982.4L650.3 982.5L650.8 982.6L651.3 982.7L651.8 982.8L652.2 982.9L652.7 982.9L653.1 983.0L653.5 983.1M666.0 985.2L666.3 985.2L666.9 985.3L667.6 985.4L668.3 985.5L669.1 985.6L669.8 985.7L670.6 985.8L671.4 985.9L672.0 986.0M681.0 987.1L681.7 987.2L682.9 987.4L684.1 987.5L685.3 987.7L686.5 987.8L687.7 988.0L689.0 988.1L690.2 988.3L691.5 988.4L692.7 988.6L694.0 988.7L695.2 988.9L696.5 989.0L697.7 989.2L698.9 989.3L700.0 989.5M711.5 990.9L712.1 991.0L712.9 991.1L713.8 991.2L714.6 991.3L715.4 991.4L716.1 991.5L716.8 991.6L717.5 991.7L717.5 991.7M730.0 993.6L730.1 993.6L730.5 993.7L730.9 993.7L731.3 993.8L731.8 993.8L732.2 993.9L732.7 993.9L733.2 994.0L733.7 994.1L734.2 994.1L734.7 994.2L735.3 994.2L735.8 994.3L736.0 994.3M745.1 995.1L745.6 995.2L746.1 995.2L746.7 995.3L747.2 995.3L747.8 995.4L748.4 995.4L748.9 995.5L749.5 995.5L750.1 995.6L750.6 995.6L751.2 995.7L751.8 995.7L752.3 995.8L752.9 995.8L753.5 995.9L754.1 995.9L754.6 996.0L755.2 996.0L755.8 996.1L756.3 996.1L756.9 996.2L757.5 996.2L758.1 996.3L758.7 996.3L759.3 996.4L759.9 996.4L760.5 996.5L761.1 996.5L761.7 996.6L762.3 996.6L762.9 996.7L763.5 996.7L764.1 996.8L764.7 996.8L765.3 996.9L765.4 996.9M776.0 997.8L776.1 997.8L776.6 997.8L777.2 997.9L777.8 997.9L778.3 998.0L778.9 998.0L779.5 998.0L780.0 998.1L780.6 998.1L781.1 998.2L781.7 998.2L782.0 998.2M793.0 998.9L793.3 999.0L793.8 999.0L794.3 999.0L794.8 999.0L795.4 999.1L795.9 999.1L796.4 999.2L796.9 999.2L797.4 999.2L797.9 999.3L798.4 999.3L799.0 999.3L799.0 999.3M803.0 999.6L803.1 999.6L803.4 999.7L803.8 999.7L804.1 999.7L804.4 999.7L804.8 999.8L805.1 999.8L805.4 999.8L805.8 999.9L806.1 999.9L806.4 999.9L806.8 999.9L807.1 1000.0L807.5 1000.0L807.9 1000.0L808.3 1000.1L808.7 1000.1L809.1 1000.1L809.5 1000.2L810.0 1000.2L810.5 1000.3L811.1 1000.3L811.6 1000.3L812.2 1000.4L812.8 1000.4L813.5 1000.5L814.2 1000.5L815.0 1000.6L815.7 1000.7L816.6 1000.7L817.5 1000.8L818.4 1000.9L819.4 1000.9L820.4 1001.0L821.5 1001.1L822.6 1001.2L823.8 1001.2L825.1 1001.3L826.4 1001.4L827.7 1001.5L829.1 1001.6L830.5 1001.7L830.6 1001.7M840.8 1002.5L841.4 1002.5L843.1 1002.7L844.7 1002.8L846.5 1002.9L847.6 1003.0M857.1 1003.7L858.8 1003.8L860.6 1003.9L862.4 1004.0L862.9 1004.1M874.8 1004.9L874.9 1004.9L876.6 1005.0L878.3 1005.1L880.0 1005.2L881.7 1005.3L883.4 1005.4L885.0 1005.5L886.6 1005.6L888.2 1005.7L889.8 1005.8L891.4 1005.9L893.1 1005.9L893.5 1006.0M903.7 1006.5L904.3 1006.5L905.9 1006.6L907.5 1006.7L909.1 1006.7L910.5 1006.8M920.7 1007.3L921.9 1007.3L923.5 1007.4L925.1 1007.5L926.7 1007.5L927.5 1007.6M937.7 1008.0L938.1 1008.0L939.7 1008.1L941.4 1008.1L943.0 1008.2L944.6 1008.3L946.3 1008.4L947.9 1008.4L949.6 1008.5L951.3 1008.6L952.9 1008.6L954.6 1008.7L956.2 1008.8L957.9 1008.9L958.1 1008.9M968.3 1009.3L969.6 1009.4L971.3 1009.5L973.0 1009.5L974.0 1009.6M986.3 1010.1L986.5 1010.1L988.2 1010.2L989.9 1010.2L991.6 1010.3L992.0 1010.3M1003.3 1010.8L1003.6 1010.8L1005.4 1010.9L1007.1 1010.9L1008.8 1011.0L1010.5 1011.1L1012.3 1011.1L1014.0 1011.2L1015.8 1011.2L1017.5 1011.3L1019.2 1011.4L1021.0 1011.4L1022.8 1011.5L1024.5 1011.5L1026.3 1011.6L1028.1 1011.6L1029.9 1011.7L1031.7 1011.8L1033.5 1011.8L1034.5 1011.8M1046.4 1012.2L1048.0 1012.2L1049.8 1012.3L1051.6 1012.3L1053.2 1012.3M1063.0 1012.6L1064.3 1012.6L1066.2 1012.7L1068.0 1012.7L1069.0 1012.8M1080.4 1013.1L1082.1 1013.1L1083.9 1013.2L1085.6 1013.2L1087.3 1013.3L1089.0 1013.3L1090.7 1013.4L1092.4 1013.4L1094.1 1013.5L1095.8 1013.5L1097.4 1013.6L1099.1 1013.6M1110.0 1013.9L1110.7 1014.0L1112.3 1014.0L1114.0 1014.1L1115.6 1014.1L1116.1 1014.1M1127.0 1014.5L1128.5 1014.5L1130.1 1014.6L1131.6 1014.6L1133.1 1014.7M1144.0 1015.0L1144.2 1015.0L1145.8 1015.1L1147.3 1015.1L1148.9 1015.2L1150.4 1015.2L1152.0 1015.3L1153.5 1015.3L1155.1 1015.3L1156.6 1015.4L1158.2 1015.4L1159.9 1015.5L1161.5 1015.5L1163.2 1015.6L1163.7 1015.6M1173.9 1015.9L1175.0 1015.9L1176.7 1016.0L1178.4 1016.0L1180.0 1016.1M1190.9 1016.4L1191.6 1016.4L1193.1 1016.5L1194.6 1016.5L1196.1 1016.5L1197.5 1016.6L1197.7 1016.6M1207.9 1016.9L1208.5 1016.9L1209.5 1016.9L1210.4 1017.0L1211.2 1017.0L1212.0 1017.0M349.8 825.5L349.9 825.8L350.0 826.0L350.2 826.3L350.3 826.5L350.4 826.7L350.5 826.9L350.6 827.0L350.7 827.2L350.8 827.4L350.9 827.5L351.0 827.6L351.1 827.7L351.2 827.8L351.3 827.9M391.2 879.0L391.3 879.2L391.5 879.3L391.7 879.4L391.8 879.6L392.0 879.7L392.2 879.8L392.4 880.0L392.5 880.1L392.7 880.2L392.9 880.3L393.1 880.4L393.3 880.5L393.5 880.6L393.7 880.7L394.0 880.8L394.2 880.9L394.4 881.0L394.6 881.1L394.8 881.2L395.1 881.2L395.3 881.3L395.5 881.4L395.7 881.5L396.0 881.6L396.2 881.7L396.4 881.8L396.6 881.9L396.9 882.0L397.1 882.1L397.3 882.2L397.5 882.3L397.8 882.5L398.0 882.6L398.2 882.7L398.4 882.8L398.6 883.0L398.8 883.1L399.0 883.3L399.2 883.4L399.4 883.6L399.6 883.8L399.8 883.9L400.0 884.1L400.2 884.3L400.4 884.5L400.6 884.7L400.8 884.9L401.0 885.1L401.2 885.3L401.4 885.5L401.6 885.8L401.8 886.0L402.0 886.2L402.2 886.4L402.4 886.7L402.6 886.9L402.8 887.1L403.0 887.4L403.2 887.6L403.4 887.8L403.5 888.1L403.7 888.3L403.9 888.6L404.1 888.8L404.3 889.0L404.4 889.3L404.6 889.5L404.8 889.8L404.9 890.0L405.1 890.2L405.3 890.5L405.4 890.7L405.6 890.9L405.7 891.1L405.8 891.4L406.0 891.6L406.1 891.8L406.2 892.0L406.3 892.2L406.4 892.4L406.5 892.6L406.6 892.8M407.8 901.4L407.9 901.5L407.9 901.7L407.9 901.8L408.0 901.9L408.0 902.0L408.1 902.2L408.1 902.3L408.2 902.4L408.2 902.6L408.3 902.7L408.3 902.8L408.4 902.9L408.4 903.0L408.5 903.2L408.5 903.3L408.6 903.4L408.7 903.5L408.7 903.6L408.8 903.7L408.8 903.9L408.9 904.0L409.0 904.1L409.0 904.2L409.1 904.3L409.2 904.4L409.2 904.5L409.3 904.6L409.4 904.7L409.4 904.8L409.5 904.9L409.6 905.0L409.6 905.1L409.7 905.2L409.7 905.2L409.8 905.3L409.8 905.4L409.9 905.5L410.0 905.6L410.0 905.6L410.1 905.7L410.1 905.8L410.2 905.9L410.2 905.9L410.3 906.0L410.4 906.1L410.4 906.1L410.5 906.2L410.6 906.3L410.6 906.3L410.7 906.4L410.8 906.5L410.9 906.5L411.0 906.6L411.1 906.7L411.2 906.7L411.3 906.8L411.4 906.9L411.5 906.9L411.7 907.0L411.8 907.1L412.0 907.1L412.1 907.2L412.3 907.3L412.4 907.4L412.6 907.4L412.8 907.5" fill="none" stroke="#7f00ff" stroke-width="4.1"/>
<g fill="#000"><circle cx="112.5" cy="122.9" r="13.9"/><circle cx="140.9" cy="157.7" r="13.9"/><circle cx="150.3" cy="192.4" r="13.9"/><circle cx="162.7" cy="227.2" r="13.9"/><circle cx="164.9" cy="261.9" r="13.9"/><circle cx="189.2" cy="296.6" r="13.9"/><circle cx="205.0" cy="331.4" r="13.9"/><circle cx="200.6" cy="366.1" r="13.9"/><circle cx="208.0" cy="400.9" r="13.9"/><circle cx="229.1" cy="435.6" r="13.9"/><circle cx="247.4" cy="470.4" r="13.9"/><circle cx="252.3" cy="505.1" r="13.9"/><circle cx="255.8" cy="539.9" r="13.9"/><circle cx="256.5" cy="574.6" r="13.9"/><circle cx="257.0" cy="609.4" r="13.9"/><circle cx="257.0" cy="644.1" r="13.9"/><circle cx="271.9" cy="678.9" r="13.9"/><circle cx="252.8" cy="713.6" r="13.9"/><circle cx="265.1" cy="748.4" r="13.9"/><circle cx="255.1" cy="783.1" r="13.9"/><circle cx="284.5" cy="817.9" r="13.9"/><circle cx="289.0" cy="852.6" r="13.9"/><circle cx="312.0" cy="887.4" r="13.9"/><circle cx="324.6" cy="922.1" r="13.9"/><circle cx="451.4" cy="957.4" r="13.9"/><circle cx="600.3" cy="957.4" r="13.9"/><circle cx="346.5" cy="991.0" r="13.9"/><circle cx="431.6" cy="1023.4" r="13.9"/></g>
</g>
<rect x="112.2" y="122.0" width="1098.3" height="903.6" fill="none" stroke="#000" stroke-width="3.2"/>
<path d="M268.9 122.0v8.6M268.9 1025.6v-8.6M425.5 122.0v17.3M425.5 1025.6v-17.3M582.2 122.0v8.6M582.2 1025.6v-8.6M738.8 122.0v17.3M738.8 1025.6v-17.3M895.5 122.0v8.6M895.5 1025.6v-8.6M1052.1 122.0v17.3M1052.1 1025.6v-17.3M112.2 212.4h8.6M1210.5 212.4h-8.6M112.2 302.7h17.3M1210.5 302.7h-17.3M112.2 393.1h8.6M1210.5 393.1h-8.6M112.2 483.4h17.3M1210.5 483.4h-17.3M112.2 573.8h8.6M1210.5 573.8h-8.6M112.2 664.2h17.3M1210.5 664.2h-17.3M112.2 754.5h8.6M1210.5 754.5h-8.6M112.2 844.9h17.3M1210.5 844.9h-17.3M112.2 935.2h8.6M1210.5 935.2h-8.6" stroke="#000" stroke-width="3.2" fill="none"/>
<text class="tk" x="112.4" y="92.5" text-anchor="middle">0</text>
<text class="tk" x="425.7" y="92.5" text-anchor="middle">20</text>
<text class="tk" x="739.0" y="92.5" text-anchor="middle">40</text>
<text class="tk" x="1052.3" y="92.5" text-anchor="middle">60</text>
<text class="tk" x="94.3" y="130.7" text-anchor="end">0</text>
<text class="tk" x="94.3" y="313.8" text-anchor="end">1</text>
<text class="tk" x="94.3" y="494.5" text-anchor="end">2</text>
<text class="tk" x="94.3" y="675.3" text-anchor="end">3</text>
<text class="tk" x="94.3" y="856.0" text-anchor="end">4</text>
<text class="tk" x="94.3" y="1035.3" text-anchor="end">5</text>
<text class="sf" style="font-size:49px" y="32.7"><tspan class="it" x="553.5">p</tspan><tspan font-size="32" x="580" y="45.1">ahm</tspan><tspan x="644.5" y="32.7">/</tspan><tspan x="655.8" y="32.7">kPa</tspan></text>
<text class="sf" transform="translate(33.5 619.5) rotate(-90)"><tspan class="it">y</tspan><tspan dx="3.3"> / m</tspan></text>
<g fill="#0000ff"><rect x="521.5" y="266.2" width="24.5" height="24.5"/></g>
<path d="M482 343.8H587" stroke="#0000ff" stroke-width="4.5"/>
<circle cx="533.6" cy="406.5" r="13.9"/>
<path d="M482 470.4H587" stroke="#000" stroke-width="4.5" stroke-dasharray="22 20"/>
<g fill="#7f00ff"><polygon points="534.2,514.6 517.6,544.6 550.8,544.6"/></g>
<path d="M482 597.5H587" stroke="#7f00ff" stroke-width="4.5" stroke-dasharray="20 10 7 10 7 10"/>
<text class="sf it" transform="translate(600.2 294.9) scale(1.22 1)">ε</text>
<text class="sf" x="628.2" y="294.9">=0°,Numerical solution</text>
<text class="sf it" transform="translate(600.2 358.5) scale(1.22 1)">ε</text>
<text class="sf" x="628.2" y="358.5">=0°, Proposed</text>
<text class="sf it" transform="translate(600.2 422.1) scale(1.22 1)">ε</text>
<text class="sf" x="628.2" y="422.1">=10°,Numerical solution</text>
<text class="sf it" transform="translate(600.2 485.7) scale(1.22 1)">ε</text>
<text class="sf" x="628.2" y="485.7">=10°, Proposed</text>
<text class="sf it" transform="translate(600.2 549.3) scale(1.22 1)">ε</text>
<text class="sf" x="628.2" y="549.3">=20°,Numerical solution</text>
<text class="sf it" transform="translate(600.2 612.9) scale(1.22 1)">ε</text>
<text class="sf" x="628.2" y="612.9">=20°, Proposed</text>
</svg></body></html>
